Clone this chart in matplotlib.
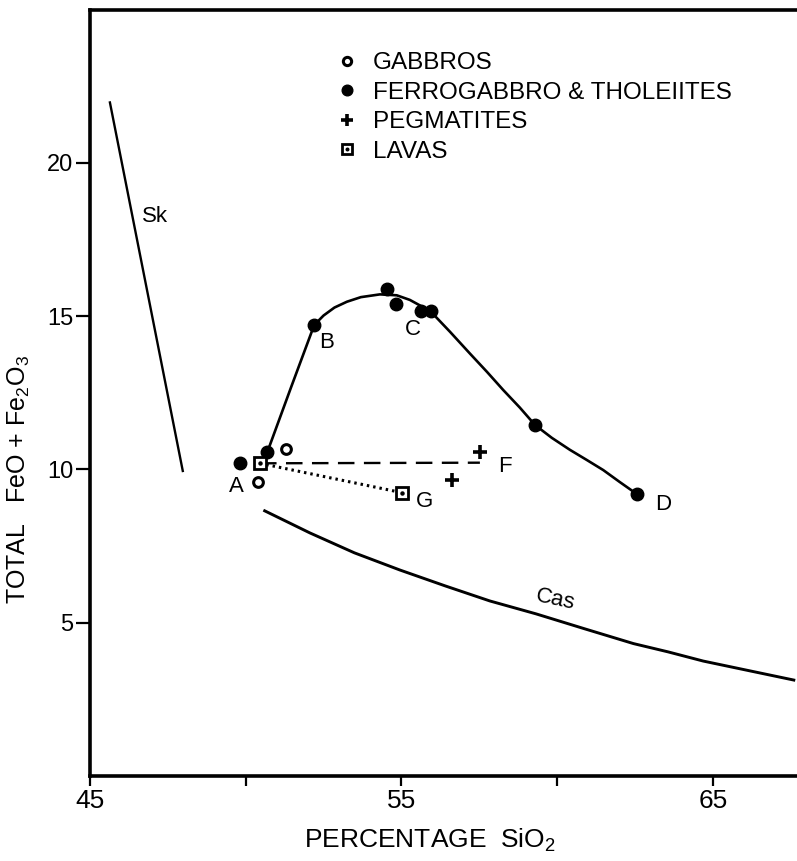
import matplotlib
matplotlib.use('Agg')
import matplotlib.pyplot as plt
from matplotlib.legend_handler import HandlerTuple

plt.rcParams['font.family'] = ['Liberation Sans', 'DejaVu Sans']
plt.rcParams['mathtext.fontset'] = 'custom'
plt.rcParams['mathtext.rm'] = 'Liberation Sans'
plt.rcParams['mathtext.it'] = 'Liberation Sans:italic'

# ---- data ----
gabbro_x = [51.29, 50.40]
gabbro_y = [10.66, 9.58]

ferro_x = [49.82, 50.70, 52.20, 54.53, 54.82, 55.62, 55.95, 59.29, 62.57]
ferro_y = [10.21, 10.58, 14.71, 15.87, 15.40, 15.17, 15.17, 11.45, 9.19]

peg_x = [57.52, 56.61]
peg_y = [10.56, 9.66]

lava_x = [50.46, 55.03]
lava_y = [10.20, 9.24]

# hand-drawn trend through the ferrogabbros (A-B-C-D)
trend_x = [50.70, 51.45, 52.20, 52.50, 52.85, 53.25, 53.70, 54.31, 54.85, 55.27,
           55.63, 55.97, 56.56, 57.20, 57.75, 58.27, 58.80, 59.29, 59.83, 60.41,
           60.95, 61.48, 62.01, 62.57]
trend_y = [10.58, 12.66, 14.71, 15.02, 15.28, 15.47, 15.62, 15.71, 15.68, 15.53,
           15.33, 15.12, 14.49, 13.78, 13.18, 12.59, 12.02, 11.45, 11.03, 10.64,
           10.31, 9.98, 9.59, 9.19]

# tie lines A-F (dashed) and A-G (dotted)
af_x = [50.46, 57.52]
af_y = [10.20, 10.22]
ag_x = [50.46, 55.03]
ag_y = [10.20, 9.24]

# Skaergaard and Cascades trends
sk_x = [45.64, 47.98]
sk_y = [21.97, 9.95]
cas_x = [50.61, 52.06, 53.49, 54.95, 56.41, 57.84, 59.32, 60.89, 62.45, 63.56,
         64.69, 66.19, 67.60]
cas_y = [8.65, 7.93, 7.28, 6.72, 6.20, 5.71, 5.29, 4.80, 4.32, 4.05,
         3.75, 3.43, 3.13]

point_labels = ['A', 'B', 'C', 'D', 'F', 'G']
label_x = [49.69, 52.61, 55.37, 63.39, 58.32, 55.75]
label_y = [9.43, 14.13, 14.55, 8.84, 10.11, 8.94]

# ---- figure ----
fig = plt.figure(figsize=(7.97, 8.61), dpi=100)
ax = fig.add_axes([0.1129, 0.0987, 0.887, 0.8902])

ax.plot(trend_x, trend_y, '-', color='black', lw=1.9, zorder=2)
ax.plot(af_x, af_y, color='black', lw=1.7, dashes=(7, 4), zorder=2)
ax.plot(ag_x, ag_y, color='black', lw=2.2, dashes=(0.8, 1.3), zorder=2)
ax.plot(sk_x, sk_y, '-', color='black', lw=1.7)
ax.plot(cas_x, cas_y, '-', color='black', lw=2.1)

h_gab, = ax.plot(gabbro_x, gabbro_y, 'o', ms=7, mfc='white', mec='black', mew=2.2,
                 ls='none', zorder=4)
h_fer, = ax.plot(ferro_x, ferro_y, 'o', ms=9, mfc='black', mec='black',
                 ls='none', zorder=4)
h_peg, = ax.plot(peg_x, peg_y, '+', ms=10, mec='black', mew=2.6,
                 ls='none', zorder=4)
h_lav, = ax.plot(lava_x, lava_y, 's', ms=9, mfc='white', mec='black', mew=2.0,
                 ls='none', zorder=5)
h_dot, = ax.plot(lava_x, lava_y, 'o', ms=2.2, color='black', ls='none', zorder=6)

for t, x, y in zip(point_labels, label_x, label_y):
    ax.text(x, y, t, fontsize=16, ha='center', va='center')
ax.text(47.09, 18.24, 'Sk', fontsize=16, ha='center', va='center')
ax.text(59.93, 5.74, 'Cas', fontsize=16, ha='center', va='center', rotation=-12)

ax.legend([h_gab, h_fer, h_peg, (h_lav, h_dot)],
          ['GABBROS', 'FERROGABBRO & THOLEIITES', 'PEGMATITES', 'LAVAS'],
          handler_map={tuple: HandlerTuple(ndivide=1)},
          loc='upper left', bbox_to_anchor=(0.3468, 0.9446), frameon=False,
          fontsize=17.5, numpoints=1, handlelength=1.0, handletextpad=0.54,
          labelspacing=0.31, borderpad=0, borderaxespad=0,
          markerscale=0.85)

ax.set_xlim(45, 67.7)
ax.set_ylim(0, 25)
ax.set_xticks([45, 55, 65])
ax.set_xticks([50, 60], minor=True)
ax.set_yticks([5, 10, 15, 20])
ax.tick_params(axis='x', which='both', direction='out', length=7, width=1.6,
               pad=2, labelsize=19)
ax.tick_params(axis='y', direction='out', length=10, width=1.6, pad=2,
               labelsize=17)

ax.spines['right'].set_visible(False)
for s in ['left', 'top', 'bottom']:
    ax.spines[s].set_linewidth(2.6)

ax.set_xlabel(r'PERCENTAGE  SiO$_2$', fontsize=19)
ax.xaxis.set_label_coords(0.481, -0.066)
ax.set_ylabel(r'TOTAL   FeO + Fe$_2$O$_3$', fontsize=18)
ax.yaxis.set_label_coords(-0.082, 0.387)

fig.savefig('out.png', dpi=100, facecolor='white')
